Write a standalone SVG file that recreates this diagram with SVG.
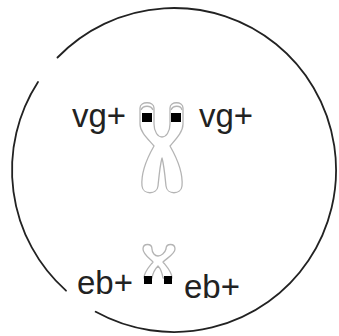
<svg xmlns="http://www.w3.org/2000/svg" width="339" height="336" viewBox="0 0 339 336">
  <style>
    .cell { fill: none; stroke: #222; stroke-width: 1.8; stroke-linecap: round; }
    .chrom { fill: #fff; stroke: #b4b4b4; stroke-width: 1.3; stroke-linejoin: round; }
    .locus { fill: #000; }
    .label { font-family: "Liberation Sans", Arial, sans-serif; font-size: 33px; fill: #222; }
  </style>

  <rect width="339" height="336" fill="#fff"/>

  <!-- cell membrane, broken in two places -->
  <g id="cell">
    <path class="cell" d="M 38,82 A 162 162 0 0 0 66,290.7"/>
    <path class="cell" d="M 95.7,311.8 A 162 162 0 1 0 57.5,57.5"/>
  </g>

  <!-- large chromosome carrying vg+ -->
  <g id="chromosome-vg">
    <path class="chrom" d="M 140,108 C 140,101 154,101 154,108 L 154,124 C 154,132 158,137 162,137 C 166,137 170,132 170,124 L 170,108 C 170,101 183,101 183,108 L 183,124 C 183,132 176,139 170,146 C 178,160 183,175 182,186 C 181,195 167,195 166,186 C 165,176 164,165 162,158 C 160,165 159,176 158,186 C 157,195 143,195 142,186 C 141,175 146,160 154,146 C 148,139 140,132 140,124 Z"/>
    <path class="chrom" d="M 141,110 C 143,105 151,105 153,110" fill="none"/>
    <path class="chrom" d="M 171,110 C 173,105 181,105 182,110" fill="none"/>
    <rect class="locus" x="142" y="113" width="10" height="9"/>
    <rect class="locus" x="171" y="113" width="10" height="9"/>
    <text class="label" x="72" y="127">vg+</text>
    <text class="label" x="199" y="127">vg+</text>
  </g>

  <!-- small chromosome carrying eb+ -->
  <g id="chromosome-eb">
    <path class="chrom" d="M 143,249 C 143,243 152,243 152,249 C 152,253 155,256 158,256 C 161,256 165,253 166,249 C 166,243 175,243 175,249 C 175,254 167,258 163,262 C 167,267 172,272 172,278 L 163,278 C 162,272 160,268 158,266 C 156,268 153,272 152,278 L 144,278 C 144,272 149,267 153,262 C 149,258 143,254 143,249 Z"/>
    <rect class="locus" x="144" y="276" width="8" height="8"/>
    <rect class="locus" x="164" y="276" width="8" height="8"/>
    <text class="label" x="77" y="294">eb+</text>
    <text class="label" x="184" y="298">eb+</text>
  </g>
</svg>
